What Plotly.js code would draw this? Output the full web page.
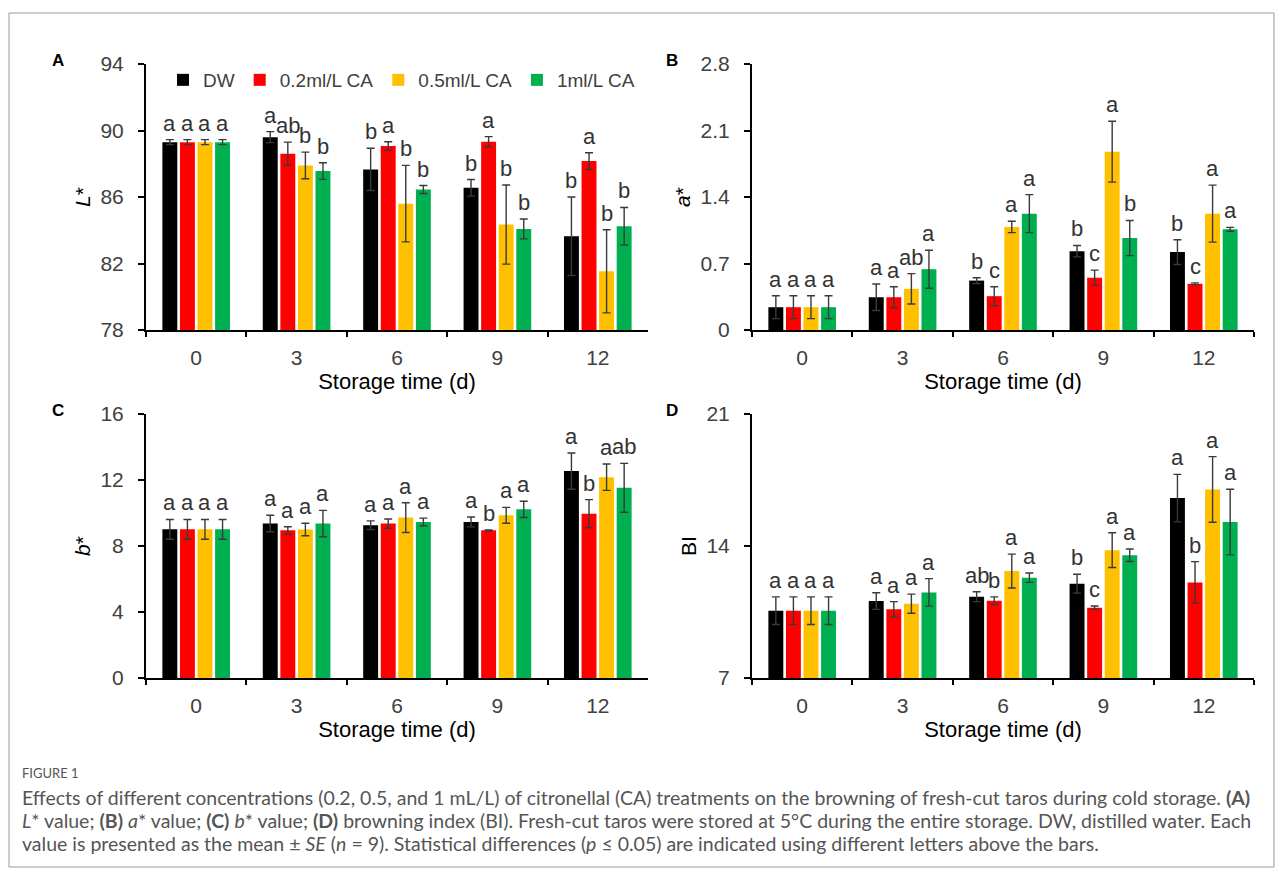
<!DOCTYPE html>
<html>
<head>
<meta charset="utf-8">
<script src="https://cdn.plot.ly/plotly-3.0.1.min.js"></script>
<style>html,body{margin:0;padding:0;background:#fff;}#chart{width:1282px;height:875px;}</style>
</head>
<body>
<div id="chart"></div>
<script>
// ---------- data ----------
const days = ["0", "3", "6", "9", "12"];
const seriesNames = ["DW", "0.2ml/L CA", "0.5ml/L CA", "1ml/L CA"];

// L* value
const L_DW = [89.3, 89.6, 87.66, 86.55, 83.64];
const L_DW_se = [0.15, 0.33, 1.27, 0.5, 2.36];
const L_02 = [89.3, 88.6, 89.07, 89.33, 88.16];
const L_02_se = [0.15, 0.7, 0.25, 0.3, 0.5];
const L_05 = [89.3, 87.9, 85.6, 84.34, 81.53];
const L_05_se = [0.15, 0.8, 2.3, 2.38, 2.5];
const L_1 = [89.3, 87.56, 86.45, 84.08, 84.24];
const L_1_se = [0.15, 0.5, 0.24, 0.6, 1.13];
const L_DW_let = ["a", "a", "b", "b", "b"];
const L_02_let = ["a", "ab", "a", "a", "a"];
const L_05_let = ["a", "b", "b", "b", "b"];
const L_1_let = ["a", "b", "b", "b", "b"];

// a* value
const A_DW = [0.24, 0.345, 0.52, 0.83, 0.82];
const A_DW_se = [0.12, 0.14, 0.03, 0.06, 0.13];
const A_02 = [0.24, 0.345, 0.356, 0.55, 0.486];
const A_02_se = [0.12, 0.11, 0.1, 0.08, 0.01];
const A_05 = [0.24, 0.433, 1.085, 1.877, 1.225];
const A_05_se = [0.12, 0.16, 0.06, 0.32, 0.3];
const A_1 = [0.24, 0.64, 1.225, 0.968, 1.06];
const A_1_se = [0.12, 0.2, 0.2, 0.185, 0.02];
const A_DW_let = ["a", "a", "b", "b", "b"];
const A_02_let = ["a", "a", "c", "c", "c"];
const A_05_let = ["a", "ab", "a", "a", "a"];
const A_1_let = ["a", "a", "a", "b", "a"];

// b* value
const B_DW = [9.01, 9.36, 9.26, 9.46, 12.54];
const B_DW_se = [0.6, 0.5, 0.26, 0.3, 1.1];
const B_02 = [9.01, 8.95, 9.36, 8.95, 9.96];
const B_02_se = [0.6, 0.22, 0.28, 0.03, 0.85];
const B_05 = [9.01, 9.0, 9.72, 9.86, 12.17];
const B_05_se = [0.6, 0.38, 0.9, 0.48, 0.8];
const B_1 = [9.01, 9.36, 9.46, 10.22, 11.53];
const B_1_se = [0.6, 0.8, 0.23, 0.49, 1.48];
const B_DW_let = ["a", "a", "a", "a", "a"];
const B_02_let = ["a", "a", "a", "b", "b"];
const B_05_let = ["a", "a", "a", "a", "a"];
const B_1_let = ["a", "a", "a", "a", "ab"];

// Browning index
const BI_DW = [10.57, 11.08, 11.31, 12.0, 16.54];
const BI_DW_se = [0.73, 0.44, 0.26, 0.5, 1.26];
const BI_02 = [10.57, 10.64, 11.1, 10.73, 12.07];
const BI_02_se = [0.73, 0.41, 0.2, 0.09, 1.1];
const BI_05 = [10.57, 10.94, 12.67, 13.78, 17.0];
const BI_05_se = [0.73, 0.51, 0.9, 0.92, 1.74];
const BI_1 = [10.57, 11.54, 12.32, 13.51, 15.27];
const BI_1_se = [0.73, 0.73, 0.25, 0.33, 1.74];
const BI_DW_let = ["a", "a", "ab", "b", "a"];
const BI_02_let = ["a", "a", "b", "c", "b"];
const BI_05_let = ["a", "a", "a", "a", "a"];
const BI_1_let = ["a", "a", "a", "a", "a"];

// ---------- styling ----------
const colors = ["#000000", "#FF0000", "#FFC000", "#00B050"];
const W = 1282, H = 875;
const BARGAP = 0.3, GROUPGAP = 0.15;
const X_LEFT = [146, 752], X_RIGHT = [648, 1254];
const catPx = (X_RIGHT[0] - X_LEFT[0]) / days.length; // pixel width of one category
const tickFont = {family: "Liberation Sans, Arial, sans-serif", size: 21, color: "#404040"};
const letterFont = {family: "Liberation Sans, Arial, sans-serif", size: 22, color: "#333333"};

const panels = [
  {xa: "x", ya: "y", vals: [L_DW, L_02, L_05, L_1], se: [L_DW_se, L_02_se, L_05_se, L_1_se],
   lets: [L_DW_let, L_02_let, L_05_let, L_1_let], legend: true},
  {xa: "x2", ya: "y2", vals: [A_DW, A_02, A_05, A_1], se: [A_DW_se, A_02_se, A_05_se, A_1_se],
   lets: [A_DW_let, A_02_let, A_05_let, A_1_let], legend: false},
  {xa: "x3", ya: "y3", vals: [B_DW, B_02, B_05, B_1], se: [B_DW_se, B_02_se, B_05_se, B_1_se],
   lets: [B_DW_let, B_02_let, B_05_let, B_1_let], legend: false},
  {xa: "x4", ya: "y4", vals: [BI_DW, BI_02, BI_05, BI_1], se: [BI_DW_se, BI_02_se, BI_05_se, BI_1_se],
   lets: [BI_DW_let, BI_02_let, BI_05_let, BI_1_let], legend: false}
];

const traces = [];
const annotations = [];
const slot = catPx * (1 - BARGAP) / 4;

panels.forEach(p => {
  for (let s = 0; s < 4; s++) {
    traces.push({
      type: "bar", x: days, y: p.vals[s], name: seriesNames[s],
      xaxis: p.xa, yaxis: p.ya, showlegend: p.legend, legendgroup: seriesNames[s],
      marker: {color: colors[s], line: {width: 0}},
      error_y: {type: "data", array: p.se[s], visible: true, color: "#3a3a3a", thickness: 1.4, width: 4},
      hoverinfo: "skip"
    });
    const off = (s - 1.5) * slot;
    for (let i = 0; i < days.length; i++) {
      annotations.push({
        xref: p.xa, yref: p.ya, x: i, y: p.vals[s][i] + p.se[s][i],
        text: p.lets[s][i], showarrow: false, xanchor: "center", yanchor: "bottom",
        xshift: off, yshift: 2, font: letterFont
      });
    }
  }
});

// panel letters
[["A", 58, 60], ["B", 672, 60], ["C", 58, 410], ["D", 672, 410]].forEach(t => {
  annotations.push({xref: "paper", yref: "paper", x: t[1] / W, y: 1 - t[2] / H, text: "<b>" + t[0] + "</b>",
    showarrow: false, xanchor: "center", yanchor: "middle",
    font: {family: "Liberation Sans, Arial, sans-serif", size: 17, color: "#000"}});
});

// caption
const capFont = {family: "Lato, sans-serif", size: 19.5, color: "#555555"};
annotations.push({xref: "paper", yref: "paper", x: 20 / W, y: 1 - 773 / H, xanchor: "left", yanchor: "middle",
  showarrow: false, text: "FIGURE 1", font: {family: "Lato, sans-serif", size: 13, color: "#555555"}});
const capLines = [
  "Effects of different concentrations (0.2, 0.5, and 1 mL/L) of citronellal (CA) treatments on the browning of fresh-cut taros during cold storage. <b>(A)</b>",
  "<i>L</i>* value; <b>(B)</b> <i>a</i>* value; <b>(C)</b> <i>b</i>* value; <b>(D)</b> browning index (BI). Fresh-cut taros were stored at 5°C during the entire storage. DW, distilled water. Each",
  "value is presented as the mean ± <i>SE</i> (<i>n</i> = 9). Statistical differences (<i>p</i> ≤ 0.05) are indicated using different letters above the bars."
];
const capY = [797, 820, 843];
capLines.forEach((t, i) => {
  annotations.push({xref: "paper", yref: "paper", x: 20 / W, y: 1 - capY[i] / H, xanchor: "left", yanchor: "middle",
    showarrow: false, text: t, font: capFont});
});

function xAxis(x0, x1, anchor) {
  return {
    domain: [x0 / W, x1 / W], anchor: anchor, type: "category", range: [-0.5, days.length - 0.5],
    showline: true, linecolor: "#000", linewidth: 2, ticks: "outside", tickson: "boundaries",
    ticklen: 5, tickwidth: 2, tickcolor: "#000", showgrid: false, zeroline: false,
    tickfont: tickFont, ticklabelstandoff: 8, fixedrange: true,
    title: {text: "Storage time (d)", font: {family: "Liberation Sans, Arial, sans-serif", size: 22, color: "#000"}, standoff: 2}
  };
}
function yAxis(top, bottom, anchor, range, dtick, title) {
  return {
    domain: [1 - bottom / H, 1 - top / H], anchor: anchor, range: range, dtick: dtick, tick0: range[0],
    showline: true, linecolor: "#000", linewidth: 2, ticks: "outside", ticklen: 6, tickwidth: 2, tickcolor: "#000",
    showgrid: false, zeroline: false, tickfont: tickFont, ticklabelstandoff: 10, fixedrange: true,
    title: {text: title, font: {family: "Liberation Sans, Arial, sans-serif", size: 21, color: "#000"}, standoff: 4}
  };
}

const layout = {
  width: W, height: H, margin: {l: 0, r: 0, t: 0, b: 0},
  paper_bgcolor: "#fff", plot_bgcolor: "rgba(0,0,0,0)",
  barmode: "group", bargap: BARGAP, bargroupgap: GROUPGAP,
  xaxis: xAxis(X_LEFT[0], X_RIGHT[0], "y"),
  yaxis: yAxis(64, 330, "x", [78, 94], 4, "<i>L</i>*"),
  xaxis2: xAxis(X_LEFT[1], X_RIGHT[1], "y2"),
  yaxis2: yAxis(64, 330, "x2", [0, 2.8], 0.7, "<i>a</i>*"),
  xaxis3: xAxis(X_LEFT[0], X_RIGHT[0], "y3"),
  yaxis3: yAxis(414, 678, "x3", [0, 16], 4, "<i>b</i>*"),
  xaxis4: xAxis(X_LEFT[1], X_RIGHT[1], "y4"),
  yaxis4: yAxis(414, 678, "x4", [7, 21], 7, "BI"),
  showlegend: true,
  legend: {orientation: "h", x: 163 / W, y: 1 - 80 / H, xanchor: "left", yanchor: "middle",
    font: {family: "Liberation Sans, Arial, sans-serif", size: 19, color: "#404040"},
    bgcolor: "rgba(0,0,0,0)", itemwidth: 30, tracegroupgap: 0, itemclick: false, itemdoubleclick: false},
  annotations: annotations,
  shapes: [{type: "rect", xref: "paper", yref: "paper", x0: 9 / W, x1: 1274 / W, y0: 1 - 867 / H, y1: 1 - 13 / H,
    line: {color: "#9a9a9a", width: 1}, fillcolor: "rgba(0,0,0,0)"}]
};

Plotly.newPlot("chart", traces, layout, {staticPlot: true, displayModeBar: false});
</script>
</body>
</html>
